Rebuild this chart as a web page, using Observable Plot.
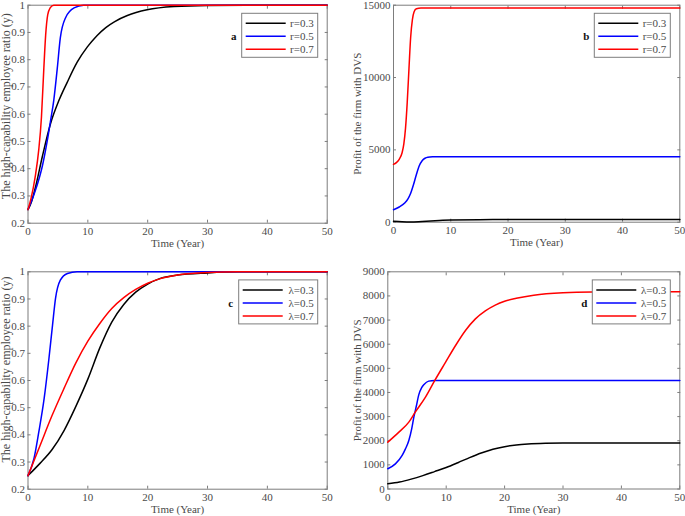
<!DOCTYPE html>
<html><head><meta charset="utf-8">
<script src="https://cdn.jsdelivr.net/npm/d3@7"></script>
<script src="https://cdn.jsdelivr.net/npm/@observablehq/plot@0.6"></script>
<style>
body{margin:0;background:#fff;}
#root{position:relative;width:685px;height:516px;font-family:"Liberation Serif","Times New Roman",serif;background:#fff;}
.panel{position:absolute;}
</style></head><body><div id="root"></div><script>
// ---- tick labels / categories ----
const timeTicks = [0, 10, 20, 30, 40, 50];
const ratioTicks = [0.2, 0.3, 0.4, 0.5, 0.6, 0.7, 0.8, 0.9, 1];
const profitTicksB = [0, 5000, 10000, 15000];
const profitTicksD = [0, 1000, 2000, 3000, 4000, 5000, 6000, 7000, 8000, 9000];
const rNames = ["r=0.3", "r=0.5", "r=0.7"];
const lambdaNames = ["\u03bb=0.3", "\u03bb=0.5", "\u03bb=0.7"];
const seriesColors = ["#000000", "#0000ff", "#ff0000"];
const xLabel = "Time (Year)";
const ratioLabel = "The high-capability employee ratio (y)";
const profitLabel = "Profit of the firm with DVS";

// ---- panel a: ratio vs time, r ----
const aTimeR03 = [0, 0.6, 1.25, 2.37, 3.76, 5.16, 6.55, 8.22, 9.89, 11.56, 13, 14.5, 16.6, 19.9, 24.4, 30, 40, 50];
const aRatioR03 = [0.25, 0.28, 0.332, 0.442, 0.565, 0.65, 0.717, 0.791, 0.846, 0.889, 0.918, 0.94, 0.962, 0.983, 0.995, 0.999, 1, 1];
const aTimeR05 = [0, 1, 2, 2.4, 3.2, 3.8, 4.3, 4.9, 5.4, 6.3, 7.7, 9.3, 50];
const aRatioR05 = [0.25, 0.305, 0.375, 0.41, 0.5, 0.58, 0.65, 0.77, 0.88, 0.955, 0.99, 1, 1];
const aTimeR07 = [0, 0.5, 1.2, 1.8, 2.25, 2.65, 2.95, 3.3, 3.7, 4.3, 50];
const aRatioR07 = [0.25, 0.29, 0.37, 0.47, 0.59, 0.77, 0.89, 0.965, 0.99, 1, 1];

// ---- panel b: profit vs time, r ----
const bTimeR03 = [0, 1.5, 3, 5, 8, 10, 15, 20, 50];
const bProfitR03 = [60, 25, 10, 50, 120, 160, 175, 180, 180];
const bTimeR05 = [0, 1, 2, 2.5, 3, 3.5, 4, 4.5, 5, 5.5, 6, 7, 8, 50];
const bProfitR05 = [860, 1050, 1350, 1600, 2000, 2600, 3300, 3900, 4250, 4420, 4490, 4520, 4530, 4530];
const bTimeR07 = [0, 0.5, 1, 1.5, 1.8, 2.1, 2.4, 2.7, 3.0, 3.3, 3.6, 4.0, 4.8, 50];
const bProfitR07 = [4000, 4120, 4350, 4800, 5400, 6500, 8300, 10600, 12800, 14000, 14550, 14750, 14800, 14800];

// ---- panel c: ratio vs time, lambda ----
const cTimeL03 = [0, 2, 4, 6, 8, 10, 12, 14, 16, 18, 20, 22, 25, 30, 35, 50];
const cRatioL03 = [0.25, 0.295, 0.345, 0.415, 0.505, 0.605, 0.72, 0.815, 0.88, 0.925, 0.955, 0.975, 0.988, 0.996, 1, 1];
const cTimeL05 = [0, 1, 1.8, 2.7, 3.5, 4.1, 4.6, 5.4, 6.6, 8.2, 50];
const cRatioL05 = [0.25, 0.313, 0.41, 0.534, 0.681, 0.804, 0.902, 0.969, 0.994, 1, 1];
const cTimeL07 = [0, 2, 4, 6, 8, 10, 12, 14, 16, 18, 20, 22, 25, 30, 35, 50];
const cRatioL07 = [0.25, 0.36, 0.47, 0.57, 0.665, 0.745, 0.81, 0.865, 0.905, 0.935, 0.958, 0.974, 0.988, 0.997, 1, 1];

// ---- panel d: profit vs time, lambda ----
const dTimeL03 = [0, 2, 4, 6, 8, 10, 12, 14, 16, 18, 20, 22, 24, 27, 30, 50];
const dProfitL03 = [214, 290, 410, 555, 720, 890, 1090, 1300, 1490, 1645, 1755, 1828, 1868, 1895, 1903, 1905];
const dTimeL05 = [0, 1.3, 2.46, 3.0, 3.6, 4.1, 4.46, 4.9, 5.3, 5.8, 6.2, 7.0, 8.05, 50];
const dProfitL05 = [840, 1040, 1390, 1650, 2010, 2500, 2976, 3450, 3900, 4200, 4330, 4470, 4500, 4500];
const dTimeL07 = [0, 1.9, 3.6, 4.7, 6.45, 8.05, 9.9, 11.6, 13.3, 15, 16.7, 18.4, 20, 22, 25, 30, 35, 50];
const dProfitL07 = [1940, 2355, 2770, 3185, 3805, 4500, 5256, 5946, 6568, 7050, 7380, 7620, 7780, 7900, 8030, 8130, 8160, 8170];

function rows(names, times, values) {
  return names.flatMap((name, k) => times[k].map((t, i) => ({name, t, v: values[k][i]})));
}

const frameColor = "#7d7d7d";
const textColor = "#4a4a4a";
const root = document.getElementById("root");

const panels = [
  {left: 0, top: 0, width: 340, height: 258, mL: 27.5, mR: 13.3, mT: 4.7, mB: 35.3,
   yDomain: [0.2, 1], yTicks: ratioTicks, yLabel: ratioLabel, yLabelDx: -22, yLabelDy: -8, yLabelSize: 12,
   names: rNames, data: rows(rNames, [aTimeR03, aTimeR05, aTimeR07], [aRatioR03, aRatioR05, aRatioR07]),
   letter: "a", legendW: 76},
  {left: 340, top: 0, width: 345, height: 258, mL: 53, mR: 5.7, mT: 4.7, mB: 36.3,
   yDomain: [0, 15000], yTicks: profitTicksB, yLabel: profitLabel, yLabelDx: -36, yLabelDy: 0, yLabelSize: 11,
   names: rNames, data: rows(rNames, [bTimeR03, bTimeR05, bTimeR07], [bProfitR03, bProfitR05, bProfitR07]),
   letter: "b", legendW: 76},
  {left: 0, top: 258, width: 340, height: 258, mL: 27.5, mR: 13.3, mT: 13.3, mB: 27.3,
   yDomain: [0.2, 1], yTicks: ratioTicks, yLabel: ratioLabel, yLabelDx: -22, yLabelDy: -11, yLabelSize: 12,
   names: lambdaNames, data: rows(lambdaNames, [cTimeL03, cTimeL05, cTimeL07], [cRatioL03, cRatioL05, cRatioL07]),
   letter: "c", legendW: 79},
  {left: 340, top: 258, width: 345, height: 258, mL: 47.3, mR: 5.7, mT: 13.3, mB: 27.5,
   yDomain: [0, 9000], yTicks: profitTicksD, yLabel: profitLabel, yLabelDx: -30.6, yLabelDy: 0, yLabelSize: 11,
   names: lambdaNames, data: rows(lambdaNames, [dTimeL03, dTimeL05, dTimeL07], [dProfitL03, dProfitL05, dProfitL07]),
   letter: "d", legendW: 78}
];

const fmt = d3.format("~g");

for (const p of panels) {
  const chart = Plot.plot({
    width: p.width, height: p.height,
    marginLeft: p.mL, marginRight: p.mR, marginTop: p.mT, marginBottom: p.mB,
    style: {fontFamily: "'Liberation Serif', 'Times New Roman', serif", fontSize: "11px", color: textColor, background: "transparent", overflow: "visible"},
    x: {domain: [0, 50]},
    y: {domain: p.yDomain},
    color: {domain: p.names, range: seriesColors},
    marks: [
      Plot.frame({stroke: frameColor, strokeWidth: 1}),
      Plot.axisX(timeTicks, {anchor: "bottom", tickSize: -3, tickPadding: 7, tickFormat: fmt, stroke: frameColor, fill: textColor, label: null}),
      Plot.axisX(timeTicks, {anchor: "top", tickSize: -3, stroke: frameColor, fill: "none", label: null}),
      Plot.axisY(p.yTicks, {anchor: "left", tickSize: -3, tickPadding: 6, tickFormat: fmt, stroke: frameColor, fill: textColor, label: null}),
      Plot.axisY(p.yTicks, {anchor: "right", tickSize: -3, stroke: frameColor, fill: "none", label: null}),
      Plot.line(p.data, {x: "t", y: "v", z: "name", stroke: "name", strokeWidth: 1.5, curve: "monotone-x"}),
      Plot.text([xLabel], {frameAnchor: "bottom", dy: 16, lineAnchor: "top", textAnchor: "middle", fill: textColor, fontSize: 11}),
      Plot.text([p.yLabel], {frameAnchor: "left", dx: p.yLabelDx, dy: p.yLabelDy, rotate: -90, lineAnchor: "middle", textAnchor: "middle", fill: textColor, fontSize: p.yLabelSize})
    ]
  });
  const wrap = document.createElement("div");
  wrap.className = "panel";
  wrap.style.left = p.left + "px";
  wrap.style.top = p.top + "px";
  wrap.appendChild(chart);
  root.appendChild(wrap);
}

// ---- legends & panel letters (overlay) ----
const overlay = d3.create("svg")
  .attr("width", 685).attr("height", 516)
  .style("position", "absolute").style("left", "0px").style("top", "0px")
  .style("font-family", "'Liberation Serif', 'Times New Roman', serif");
for (const p of panels) {
  const frameRight = p.left + p.width - p.mR;
  const frameTop = p.top + p.mT;
  const w = p.legendW, h = 44;
  const bx = frameRight - 9 - w, by = frameTop + 8.6;
  const g = overlay.append("g");
  g.append("rect").attr("x", bx).attr("y", by).attr("width", w).attr("height", h)
    .attr("fill", "#fff").attr("stroke", frameColor).attr("stroke-width", 1);
  p.names.forEach((name, i) => {
    const yy = by + 10 + i * 13;
    g.append("line").attr("x1", bx + 4).attr("x2", bx + 44).attr("y1", yy).attr("y2", yy)
      .attr("stroke", seriesColors[i]).attr("stroke-width", 1.5);
    g.append("text").attr("x", bx + w - 4).attr("y", yy).attr("dy", "0.35em")
      .attr("text-anchor", "end").attr("font-size", 11).attr("fill", textColor).text(name);
  });
  g.append("text").attr("x", bx - 8).attr("y", by + 23).attr("dy", "0.35em")
    .attr("text-anchor", "middle").attr("font-size", 11).attr("font-weight", "bold")
    .attr("fill", "#111").text(p.letter);
}
root.appendChild(overlay.node());
</script></body></html>
